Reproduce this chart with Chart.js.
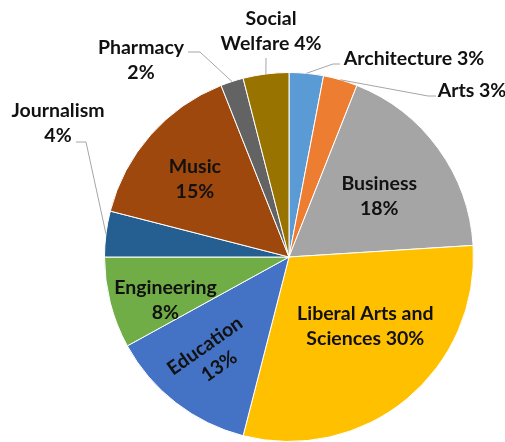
<!DOCTYPE html>
<html>
<head>
<meta charset="utf-8">
<script src="https://cdn.jsdelivr.net/npm/chart.js@4"></script>
<style>
  html, body { margin: 0; padding: 0; background: #fff; }
</style>
</head>
<body>
<canvas id="grafico-cursos" width="505" height="442"></canvas>
<script>
const cursos = ["Architecture", "Arts", "Business", "Liberal Arts and Sciences", "Education", "Engineering", "Journalism", "Music", "Pharmacy", "Social Welfare"]
const percentuais = [3, 3, 18, 30, 13, 8, 4, 15, 2, 4]
const cores = ["#5B9BD5", "#ED7D31", "#A5A5A5", "#FFC000", "#4472C4", "#70AD47", "#255E91", "#9E480E", "#636363", "#997300"]

// how each label is placed (inside: radial fraction + angle tweak; outside: text spot + leader elbows)
const rotulos = [
    { tipo: "fora", linhas: ["Architecture 3%"], x: 414, y: 59, guia: [[333, 64], [340, 64]] },
    { tipo: "fora", linhas: ["Arts 3%"], x: 472, y: 91, guia: [[428, 96], [436, 96]] },
    { tipo: "dentro", linhas: ["Business", "18%"], r: 0.59, dAng: 2 },
    { tipo: "dentro", linhas: ["Liberal Arts and", "Sciences 30%"], r: 0.56, dAng: -8 },
    { tipo: "dentro", linhas: ["Education", "13%"], r: 0.68, dAng: 0, rot: -35 },
    { tipo: "dentro", linhas: ["Engineering", "8%"], r: 0.71, dAng: -5 },
    { tipo: "fora", linhas: ["Journalism", "4%"], x: 58, y: 111, guia: [[86, 142], [76, 142]] },
    { tipo: "dentro", linhas: ["Music", "15%"], r: 0.66, dAng: -2 },
    { tipo: "fora", linhas: ["Pharmacy", "2%"], x: 141, y: 48, guia: [[200, 52], [188, 52]] },
    { tipo: "fora", linhas: ["Social", "Welfare 4%"], x: 271, y: 19, guia: [[266, 58]] }
]

const alturaLinha = 25

const pluginRotulos = {
    id: "rotulos",
    afterDatasetsDraw(chart) {
        const ctx = chart.ctx
        const meta = chart.getDatasetMeta(0)
        ctx.save()
        ctx.font = "bold 19.5px Lato"
        ctx.fillStyle = "#111"
        ctx.textAlign = "center"
        ctx.textBaseline = "middle"
        meta.data.forEach((arc, i) => {
            const rot = rotulos[i]
            const meio = (arc.startAngle + arc.endAngle) / 2
            if (rot.tipo == "dentro") {
                const ang = meio + rot.dAng * Math.PI / 180
                const d = arc.outerRadius * rot.r
                const cx = arc.x + Math.cos(ang) * d
                const cy = arc.y + Math.sin(ang) * d
                ctx.save()
                ctx.translate(cx, cy)
                if (rot.rot) ctx.rotate(rot.rot * Math.PI / 180)
                rot.linhas.forEach((txt, j) => {
                    ctx.fillText(txt, 0, (j - (rot.linhas.length - 1) / 2) * alturaLinha)
                })
                ctx.restore()
            } else {
                const bx = arc.x + Math.cos(meio) * arc.outerRadius
                const by = arc.y + Math.sin(meio) * arc.outerRadius
                ctx.beginPath()
                ctx.strokeStyle = "#A6A6A6"
                ctx.lineWidth = 1
                ctx.moveTo(bx, by)
                rot.guia.forEach(p => ctx.lineTo(p[0], p[1]))
                ctx.stroke()
                rot.linhas.forEach((txt, j) => {
                    ctx.fillText(txt, rot.x, rot.y + j * alturaLinha)
                })
            }
        })
        ctx.restore()
    }
}

let myChartCursos = new Chart(
    document.getElementById("grafico-cursos"),
    {
        type: "pie",
        data: {
            labels: cursos,
            datasets: [
                {
                    label: "",
                    data: percentuais,
                    backgroundColor: cores,
                    borderColor: "#ffffff",
                    borderWidth: 1
                }
            ]
        },
        options: {
            responsive: false,
            animation: false,
            layout: {
                padding: { left: 104, right: 31, top: 72, bottom: 0 }
            },
            plugins: {
                legend: { display: false },
                tooltip: { enabled: false }
            }
        },
        plugins: [pluginRotulos]
    }
)
</script>
</body>
</html>
